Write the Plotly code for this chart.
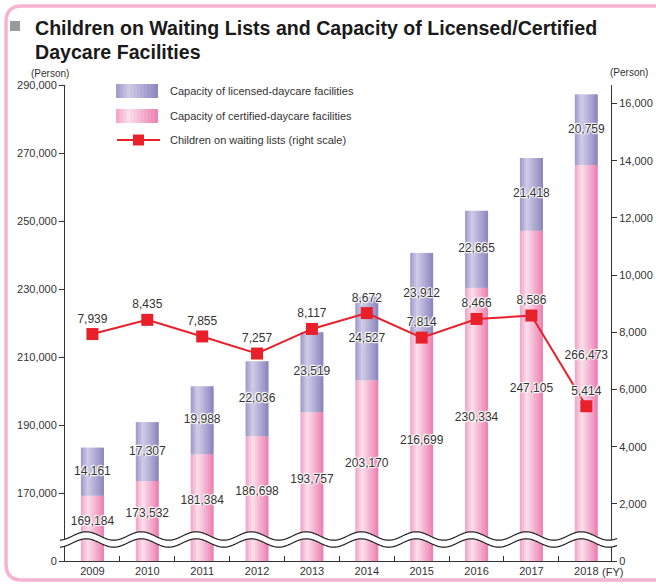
import math
import plotly.graph_objects as go

# ---------------- data ----------------
years = ["2009", "2010", "2011", "2012", "2013", "2014", "2015", "2016", "2017", "2018"]
certified = [169184, 173532, 181384, 186698, 193757, 203170, 216699, 230334, 247105, 266473]
licensed = [14161, 17307, 19988, 22036, 23519, 24527, 23912, 22665, 21418, 20759]
waiting = [7939, 8435, 7855, 7257, 8117, 8672, 7814, 8466, 8586, 5414]
left_tick_vals = [150000, 170000, 190000, 210000, 230000, 250000, 270000, 290000]
left_tick_text = ["0", "170,000", "190,000", "210,000", "230,000", "250,000", "270,000", "290,000"]
right_tick_vals = [0, 2000, 4000, 6000, 8000, 10000, 12000, 14000, 16000]

# ---------------- style ----------------
W, H = 656, 585
ML, MR, MT, MB = 65, 45, 85, 24
PW, PH = W - ML - MR, H - MT - MB
FONT = "Liberation Sans Narrow, Arial Narrow, Liberation Sans, Arial, sans-serif"
TXT = "#333333"
HALO = "1px 0px 1px white, -1px 0px 1px white, 0px 1px 1px white, 0px -1px 1px white, 1px 1px 1px white, -1px -1px 1px white"
RED = "#e8202a"
BAR_W = 0.42
N = 12

pink_stops = [(0.0, (242, 160, 196)), (0.3, (251, 224, 236)), (1.0, (236, 126, 175))]
purple_stops = [(0.0, (158, 150, 200)), (0.3, (208, 204, 231)), (1.0, (140, 132, 189))]


def grad(stops, t):
    for (t0, c0), (t1, c1) in zip(stops[:-1], stops[1:]):
        if t <= t1:
            f = (t - t0) / (t1 - t0)
            c = [round(a + (b - a) * f) for a, b in zip(c0, c1)]
            return "rgb(%d,%d,%d)" % tuple(c)
    return "rgb(%d,%d,%d)" % stops[-1][1]


def px(x):
    return (x - ML) / PW


def py(y):
    return (MT + PH - y) / PH


fig = go.Figure()

# gradient bars built from vertical stripes
for i in range(N):
    t = (i + 0.5) / N
    off = -BAR_W / 2 + i * BAR_W / N
    wid = BAR_W / N * (1.0 if i == N - 1 else 1.35)
    fig.add_trace(go.Bar(x=years, y=certified, width=wid, offset=off,
                         marker=dict(color=grad(pink_stops, t), line=dict(width=0)),
                         showlegend=False, hoverinfo="skip"))
    fig.add_trace(go.Bar(x=years, y=licensed, base=certified, width=wid, offset=off,
                         marker=dict(color=grad(purple_stops, t), line=dict(width=0)),
                         showlegend=False, hoverinfo="skip"))

label_font = dict(family=FONT, size=12, color=TXT, shadow=HALO)

# certified labels
fig.add_trace(go.Scatter(x=years, y=[(c + 154000) / 2 for c in certified], mode="text",
                         text=[f"{c:,}" for c in certified], textfont=label_font,
                         showlegend=False, hoverinfo="skip"))
# licensed labels
fig.add_trace(go.Scatter(x=years, y=[c + l / 2 for c, l in zip(certified, licensed)], mode="text",
                         text=[f"{l:,}" for l in licensed], textfont=label_font,
                         showlegend=False, hoverinfo="skip"))
# waiting line
fig.add_trace(go.Scatter(x=years, y=waiting, yaxis="y2", mode="lines+markers+text",
                         line=dict(color=RED, width=2),
                         marker=dict(symbol="square", size=12, color=RED),
                         text=[f"{v:,}" for v in waiting], textposition="top center",
                         textfont=label_font, showlegend=False, hoverinfo="skip",
                         cliponaxis=False))

shapes = []
# axis break waves
x0, x1 = 60, 617
P, A = 55, 4.2
pts = [x0 + k * 0.5 for k in range(int((x1 - x0) / 0.5) + 1)]


def wave(yc):
    return [(x, yc + A * math.sin(2 * math.pi * (x - 45) / P)) for x in pts]


up = wave(536)
lo = wave(543)
path = "M " + " L ".join(f"{px(x):.5f},{py(y):.5f}" for x, y in up)
path += " L " + " L ".join(f"{px(x):.5f},{py(y):.5f}" for x, y in reversed(lo)) + " Z"
shapes.append(dict(type="path", xref="paper", yref="paper", path=path,
                   fillcolor="white", line=dict(width=0), layer="above"))
for wv in (up, lo):
    p = "M " + " L ".join(f"{px(x):.5f},{py(y):.5f}" for x, y in wv)
    shapes.append(dict(type="path", xref="paper", yref="paper", path=p,
                       line=dict(color="#222222", width=1.2), layer="above"))

# legend swatches
for stops, (ya, yb) in ((purple_stops, (84, 98)), (pink_stops, (109, 123))):
    xa, xb = 116, 158
    for i in range(N):
        t = (i + 0.5) / N
        sx0 = xa + i * (xb - xa) / N
        sx1 = xa + (i + 1) * (xb - xa) / N + (0.6 if i < N - 1 else 0)
        shapes.append(dict(type="rect", xref="paper", yref="paper",
                           x0=px(sx0), x1=px(sx1), y0=py(yb), y1=py(ya),
                           fillcolor=grad(stops, t), line=dict(width=0), layer="above"))
shapes.append(dict(type="line", xref="paper", yref="paper", x0=px(117), x1=px(160),
                   y0=py(140), y1=py(140), line=dict(color=RED, width=2), layer="above"))
shapes.append(dict(type="rect", xref="paper", yref="paper", x0=px(133), x1=px(144),
                   y0=py(145.5), y1=py(134.5), fillcolor=RED, line=dict(width=0), layer="above"))

# title square
shapes.append(dict(type="rect", xref="paper", yref="paper", x0=px(10), x1=px(20),
                   y0=py(31), y1=py(21), fillcolor="#9a9a9a", line=dict(width=0)))

# pink rounded border
r = 16
bx0, by0, bx1, by1 = 6, 6, 670, 580
bp = (f"M {px(bx0 + r)},{py(by0)} L {px(bx1)},{py(by0)} M {px(bx1)},{py(by1)} "
      f"L {px(bx0 + r)},{py(by1)} Q {px(bx0)},{py(by1)} {px(bx0)},{py(by1 - r)} "
      f"L {px(bx0)},{py(by0 + r)} Q {px(bx0)},{py(by0)} {px(bx0 + r)},{py(by0)}")
shapes.append(dict(type="path", xref="paper", yref="paper", path=bp,
                   line=dict(color="#f6b3d1", width=3.5)))

ann = []
legend_items = [("Capacity of licensed-daycare facilities", 91),
                ("Capacity of certified-daycare facilities", 116),
                ("Children on waiting lists (right scale)", 140)]
for txt, yy in legend_items:
    ann.append(dict(xref="paper", yref="paper", x=px(168), y=py(yy), text=txt,
                    showarrow=False, xanchor="left", yanchor="middle",
                    font=dict(family=FONT, size=11, color=TXT)))
TITLE_FONT = dict(family=FONT, size=19.6, color="#1a1a1a", weight="bold")
ann.append(dict(xref="paper", yref="paper", x=px(33), y=py(28.5),
                text="Children on Waiting Lists and Capacity of Licensed/Certified",
                showarrow=False, xanchor="left", yanchor="middle", font=TITLE_FONT))
ann.append(dict(xref="paper", yref="paper", x=px(33), y=py(51.5),
                text="Daycare Facilities",
                showarrow=False, xanchor="left", yanchor="middle", font=TITLE_FONT))
ann.append(dict(xref="paper", yref="paper", x=px(50), y=py(73), text="(Person)",
                showarrow=False, xanchor="center", yanchor="middle",
                font=dict(family=FONT, size=10, color=TXT)))
ann.append(dict(xref="paper", yref="paper", x=px(629), y=py(72), text="(Person)",
                showarrow=False, xanchor="center", yanchor="middle",
                font=dict(family=FONT, size=10, color=TXT)))
ann.append(dict(xref="paper", yref="paper", x=px(600), y=py(572), text="(FY)",
                showarrow=False, xanchor="left", yanchor="middle",
                font=dict(family=FONT, size=11, color=TXT)))

fig.update_layout(
    width=W, height=H,
    margin=dict(l=ML, r=MR, t=MT, b=MB, autoexpand=False),
    paper_bgcolor="white", plot_bgcolor="white",
    barmode="overlay", showlegend=False,
    font=dict(family=FONT, size=11, color=TXT),
    xaxis=dict(type="category", range=[-0.5, 9.45], showline=True, linecolor="#333333",
               linewidth=1, ticks="inside", tickson="boundaries", ticklen=5,
               tickcolor="#333333", showgrid=False, zeroline=False,
               tickfont=dict(family=FONT, size=11, color=TXT)),
    yaxis=dict(range=[150000, 290000], tickvals=left_tick_vals, ticktext=left_tick_text,
               showline=True, linecolor="#333333", linewidth=1, ticks="outside",
               ticklen=5, tickcolor="#333333", showgrid=False, zeroline=False,
               tickfont=dict(family=FONT, size=11, color=TXT)),
    yaxis2=dict(range=[0, 16650], overlaying="y", side="right", tickvals=right_tick_vals,
                tickformat=",d", showline=True, linecolor="#333333", linewidth=1,
                ticks="outside", ticklen=5, tickcolor="#333333", showgrid=False,
                zeroline=False, tickfont=dict(family=FONT, size=11, color=TXT)),
    shapes=shapes, annotations=ann,
)

fig.write_html("out.html", config={"displayModeBar": False},
               post_script="document.body.style.margin='0';document.body.style.overflow='hidden';")
